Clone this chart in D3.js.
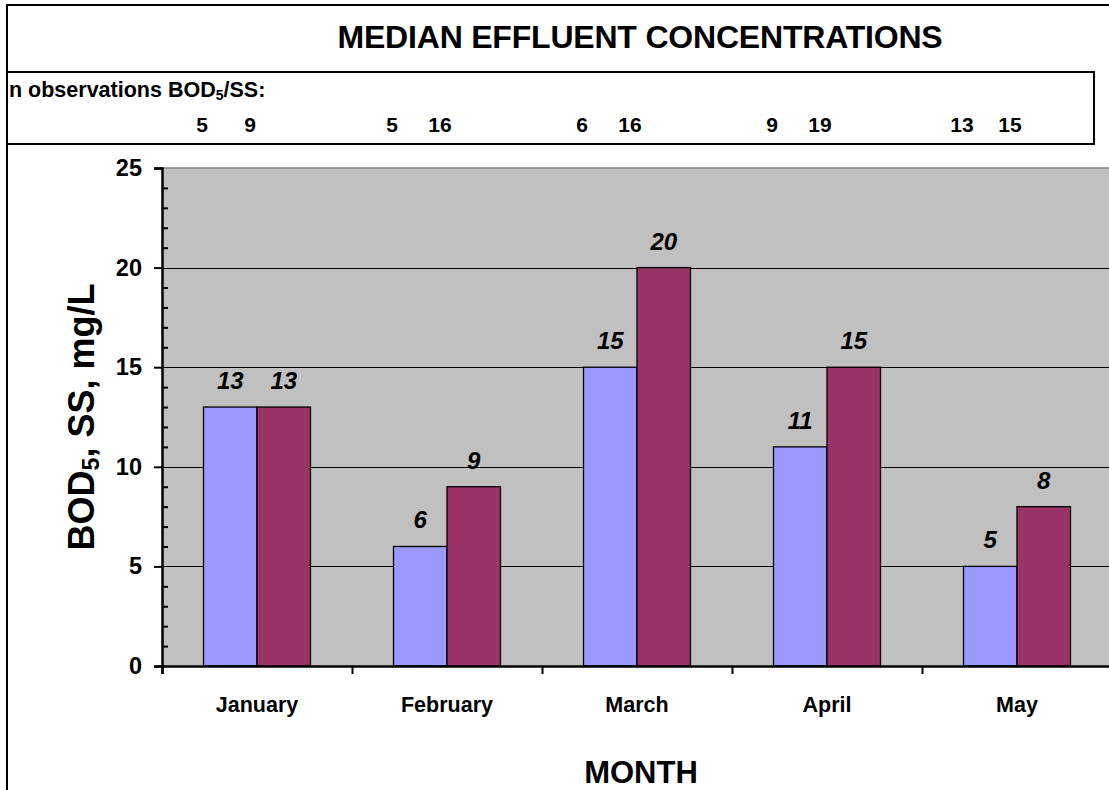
<!DOCTYPE html>
<html>
<head>
<meta charset="utf-8">
<script src="https://cdn.jsdelivr.net/npm/d3@7"></script>
<style>
  html, body { margin: 0; padding: 0; background: #fff; overflow: hidden; }
  svg { display: block; font-family: "Liberation Sans", Arial, sans-serif; }
</style>
</head>
<body>
<svg id="chart" width="1109" height="790"></svg>
<script>
// Monthly medians, mg/L
const months = ["January", "February", "March", "April", "May"];
const seriesNames = ["BOD5", "SS"];
const bodValues = [13, 6, 15, 11, 5];
const ssValues = [13, 9, 20, 15, 8];
// Number of observations per month
const nBod = [5, 5, 6, 9, 13];
const nSs = [9, 16, 16, 19, 15];
const yTicks = [0, 5, 10, 15, 20, 25];

const colors = { BOD5: "#9999FF", SS: "#993366" };

const svg = d3.select("#chart");
const plot = { left: 162, top: 168, right: 1112, bottom: 666 };

const x0 = d3.scaleBand().domain(months).range([plot.left, plot.right]).padding(0);
const x1 = d3.scaleBand().domain(seriesNames).range([0, x0.bandwidth()]).paddingInner(0).paddingOuter(0.776);
const y = d3.scaleLinear().domain([0, 25]).range([plot.bottom, plot.top]);
const edge = d3.scaleLinear().domain([0, months.length]).range([plot.left, plot.right]);

// Outer frame (top and left edges)
svg.append("path")
  .attr("d", "M7,790 L7,5 L1109,5")
  .attr("fill", "none").attr("stroke", "#000").attr("stroke-width", 2);

// Title
svg.append("text")
  .attr("x", 640).attr("y", 48)
  .attr("text-anchor", "middle")
  .attr("font-size", 32).attr("font-weight", "bold")
  .attr("letter-spacing", -0.2)
  .text("MEDIAN EFFLUENT CONCENTRATIONS");

// Observation count box
svg.append("rect")
  .attr("x", 7).attr("y", 72).attr("width", 1087).attr("height", 72)
  .attr("fill", "none").attr("stroke", "#000").attr("stroke-width", 2);

const nLabel = svg.append("text")
  .attr("x", 9).attr("y", 97)
  .attr("font-size", 21.5).attr("font-weight", "bold");
nLabel.append("tspan").text("n observations BOD");
nLabel.append("tspan").attr("font-size", 14).attr("dy", 3).text("5");
nLabel.append("tspan").attr("dy", -3).text("/SS:");

const nRow = svg.append("g").attr("font-size", 21).attr("font-weight", "bold").attr("text-anchor", "middle");
months.forEach((m, i) => {
  const c = x0(m) + x0.bandwidth() / 2;
  nRow.append("text").attr("x", c - 55).attr("y", 132).text(nBod[i]);
  nRow.append("text").attr("x", c - 7).attr("y", 132).text(nSs[i]);
});

// Plot area
svg.append("rect")
  .attr("x", plot.left).attr("y", plot.top)
  .attr("width", plot.right - plot.left).attr("height", plot.bottom - plot.top)
  .attr("fill", "#C0C0C0");
svg.append("line")
  .attr("x1", plot.left).attr("x2", plot.right)
  .attr("y1", plot.top).attr("y2", plot.top)
  .attr("stroke", "#808080").attr("stroke-width", 1.5);

// Gridlines
svg.append("g")
  .selectAll("line")
  .data(yTicks.filter(v => v > 0 && v < 25))
  .join("line")
  .attr("x1", plot.left).attr("x2", plot.right)
  .attr("y1", d => Math.round(y(d)) + 0.5).attr("y2", d => Math.round(y(d)) + 0.5)
  .attr("stroke", "#000").attr("stroke-width", 1);

// Bars
const rows = months.map((m, i) => ({ month: m, BOD5: bodValues[i], SS: ssValues[i] }));
const groups = svg.append("g").selectAll("g")
  .data(rows).join("g")
  .attr("transform", d => `translate(${x0(d.month)},0)`);

groups.selectAll("rect")
  .data(d => seriesNames.map(k => ({ key: k, value: d[k] })))
  .join("rect")
  .attr("x", d => x1(d.key))
  .attr("y", d => y(d.value))
  .attr("width", x1.bandwidth())
  .attr("height", d => y(0) - y(d.value))
  .attr("fill", d => colors[d.key])
  .attr("stroke", "#000").attr("stroke-width", 1.3);

groups.selectAll("text")
  .data(d => seriesNames.map(k => ({ key: k, value: d[k] })))
  .join("text")
  .attr("x", d => x1(d.key) + x1.bandwidth() / 2)
  .attr("y", d => y(d.value) - 18)
  .attr("text-anchor", "middle")
  .attr("font-size", 24).attr("font-weight", "bold").attr("font-style", "italic")
  .text(d => d.value);

// Y axis: major ticks outside, minor ticks inside
const yAxis = svg.append("g")
  .attr("transform", `translate(${plot.left},0)`)
  .call(d3.axisLeft(y).tickValues(yTicks).tickSize(8).tickPadding(12));
yAxis.selectAll("text").attr("font-size", 23.5).attr("font-weight", "bold").attr("fill", "#000")
  .attr("font-family", "Liberation Sans, Arial, sans-serif");
yAxis.select(".domain").attr("stroke-width", 2.5);
yAxis.selectAll(".tick line").attr("stroke-width", 2);

const minor = svg.append("g")
  .attr("transform", `translate(${plot.left},0)`)
  .call(d3.axisLeft(y).tickValues(d3.range(1, 25).filter(v => v % 5 !== 0)).tickSize(-6).tickFormat(""));
minor.select(".domain").remove();
minor.selectAll(".tick line").attr("stroke-width", 2);

// X axis with ticks at category boundaries
const xAxis = svg.append("g")
  .attr("transform", `translate(0,${plot.bottom})`)
  .call(d3.axisBottom(edge).tickValues(d3.range(0, months.length + 1)).tickSize(8).tickFormat(""));
xAxis.select(".domain").attr("stroke-width", 2.5);
xAxis.selectAll(".tick line").attr("stroke-width", 2);

svg.append("g")
  .selectAll("text")
  .data(months).join("text")
  .attr("x", d => x0(d) + x0.bandwidth() / 2)
  .attr("y", 712)
  .attr("text-anchor", "middle")
  .attr("font-size", 21.5).attr("font-weight", "bold")
  .text(d => d);

// Axis titles
svg.append("text")
  .attr("x", 641).attr("y", 783)
  .attr("text-anchor", "middle")
  .attr("font-size", 31).attr("font-weight", "bold")
  .text("MONTH");

const yTitle = svg.append("text")
  .attr("transform", `translate(94,${(plot.top + plot.bottom) / 2}) rotate(-90)`)
  .attr("text-anchor", "middle")
  .attr("font-size", 36).attr("font-weight", "bold");
yTitle.append("tspan").text("BOD");
yTitle.append("tspan").attr("font-size", 23).attr("dy", 5).text("5");
yTitle.append("tspan").attr("dy", -5).text(", SS, mg/L");
</script>
</body>
</html>
